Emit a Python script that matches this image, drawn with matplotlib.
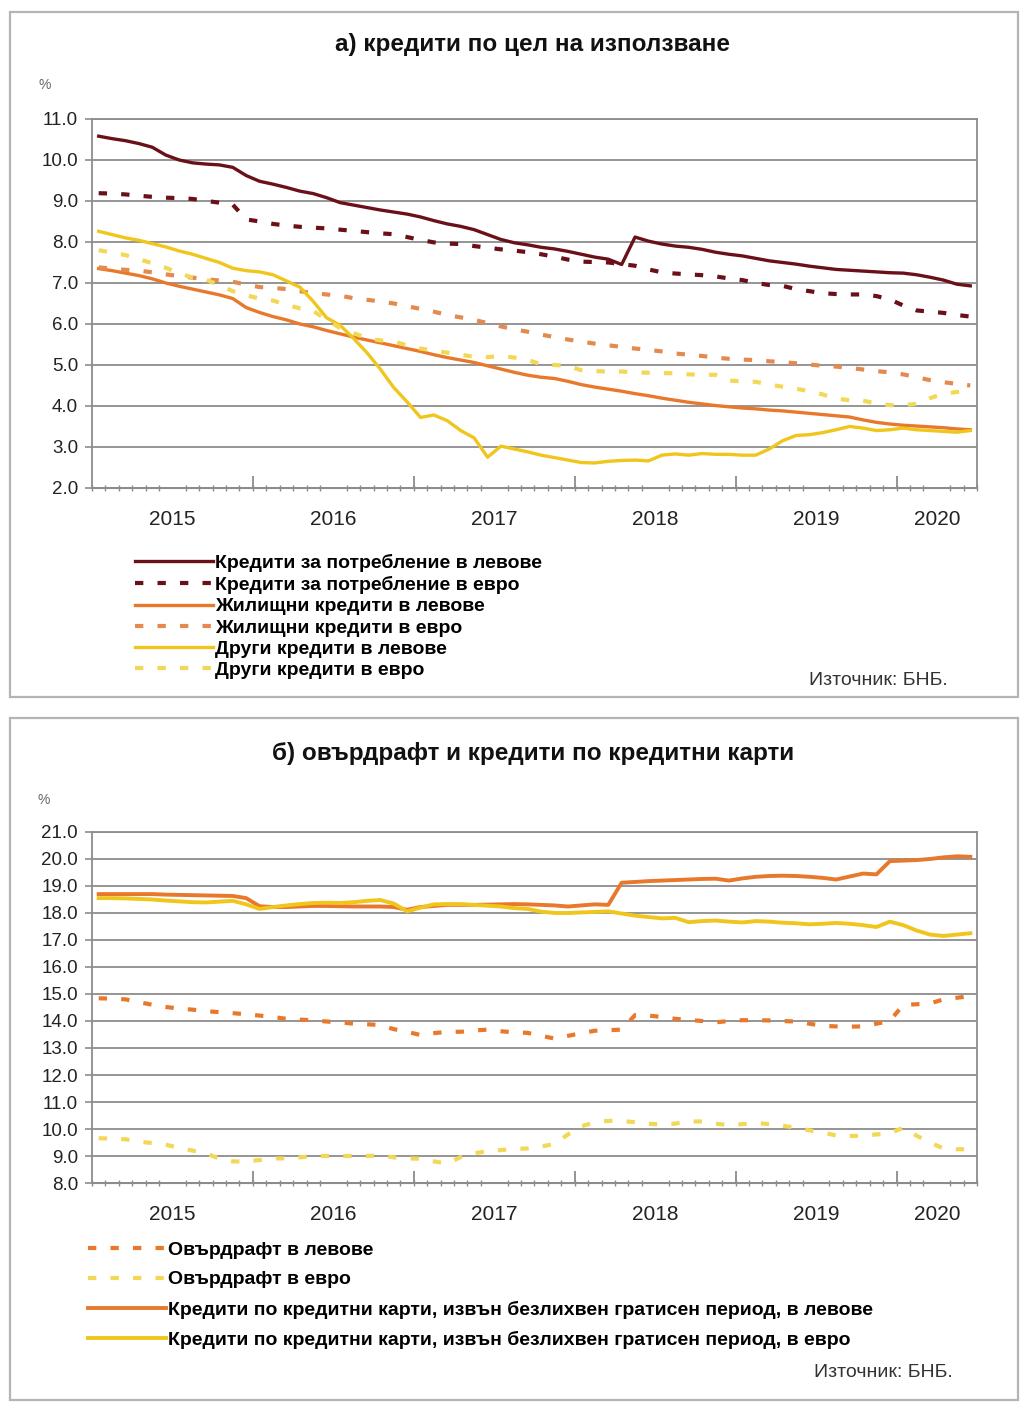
import numpy as np
import pandas as pd
import matplotlib
matplotlib.use('Agg')
import matplotlib.pyplot as plt
from matplotlib.patches import Rectangle

plt.rcParams['font.family'] = ['Liberation Sans', 'DejaVu Sans']

# месеци: 01.2015 - 06.2020
months = pd.date_range('2015-01-01', '2020-06-01', freq='MS')
years = ['2015', '2016', '2017', '2018', '2019', '2020']

# ================= а) кредити по цел на използване =================
cons_bgn = [10.58, 10.52, 10.47, 10.40, 10.31, 10.12, 10.00, 9.93, 9.90, 9.88, 9.82, 9.62,
            9.48, 9.41, 9.33, 9.24, 9.18, 9.08, 8.96, 8.90, 8.84, 8.78, 8.73, 8.68,
            8.61, 8.52, 8.44, 8.38, 8.30, 8.18, 8.06, 7.98, 7.93, 7.87, 7.83, 7.77,
            7.70, 7.63, 7.58, 7.45, 8.12, 8.02, 7.95, 7.90, 7.87, 7.82, 7.75, 7.70,
            7.66, 7.60, 7.54, 7.50, 7.46, 7.41, 7.37, 7.33, 7.31, 7.29, 7.27, 7.25,
            7.24, 7.20, 7.14, 7.07, 6.97, 6.93]
cons_eur = [9.19, 9.18, 9.16, 9.13, 9.10, 9.08, 9.07, 9.05, 9.00, 8.96, 8.91, 8.55,
            8.50, 8.44, 8.40, 8.37, 8.35, 8.33, 8.30, 8.27, 8.24, 8.21, 8.19, 8.12,
            8.05, 7.99, 7.96, 7.95, 7.90, 7.86, 7.82, 7.79, 7.75, 7.70, 7.64, 7.57,
            7.52, 7.51, 7.50, 7.46, 7.42, 7.33, 7.26, 7.23, 7.21, 7.19, 7.16, 7.11,
            7.07, 7.00, 6.95, 6.93, 6.85, 6.80, 6.75, 6.73, 6.72, 6.72, 6.68, 6.60,
            6.45, 6.33, 6.30, 6.27, 6.22, 6.18]
house_bgn = [7.35, 7.30, 7.24, 7.18, 7.10, 7.00, 6.92, 6.85, 6.78, 6.71, 6.62, 6.40,
             6.28, 6.18, 6.10, 6.00, 5.93, 5.84, 5.76, 5.68, 5.61, 5.54, 5.47, 5.40,
             5.33, 5.25, 5.18, 5.12, 5.06, 4.98, 4.90, 4.82, 4.75, 4.70, 4.67, 4.60,
             4.52, 4.46, 4.41, 4.36, 4.30, 4.25, 4.19, 4.14, 4.09, 4.05, 4.01, 3.98,
             3.95, 3.93, 3.90, 3.88, 3.85, 3.82, 3.79, 3.76, 3.73, 3.66, 3.60, 3.56,
             3.53, 3.51, 3.49, 3.47, 3.44, 3.42]
house_eur = [7.38, 7.35, 7.32, 7.30, 7.26, 7.21, 7.17, 7.13, 7.09, 7.06, 7.03, 6.96,
             6.90, 6.88, 6.85, 6.80, 6.75, 6.72, 6.69, 6.63, 6.59, 6.55, 6.50, 6.43,
             6.37, 6.30, 6.22, 6.16, 6.10, 6.02, 5.94, 5.87, 5.81, 5.74, 5.68, 5.62,
             5.57, 5.52, 5.48, 5.44, 5.40, 5.37, 5.33, 5.28, 5.25, 5.22, 5.18, 5.15,
             5.13, 5.12, 5.09, 5.07, 5.04, 5.01, 4.98, 4.96, 4.93, 4.89, 4.85, 4.82,
             4.77, 4.70, 4.63, 4.58, 4.54, 4.50]
other_bgn = [8.26, 8.18, 8.10, 8.04, 7.96, 7.88, 7.78, 7.70, 7.60, 7.50, 7.36, 7.30,
             7.27, 7.20, 7.05, 6.90, 6.55, 6.15, 5.97, 5.65, 5.30, 4.90, 4.45, 4.10,
             3.72, 3.78, 3.64, 3.40, 3.22, 2.75, 3.02, 2.95, 2.88, 2.80, 2.74, 2.68,
             2.62, 2.61, 2.65, 2.67, 2.68, 2.66, 2.80, 2.83, 2.80, 2.84, 2.82, 2.82,
             2.80, 2.80, 2.95, 3.15, 3.28, 3.30, 3.35, 3.42, 3.50, 3.46, 3.40, 3.42,
             3.46, 3.42, 3.40, 3.38, 3.36, 3.40]
other_eur = [7.80, 7.74, 7.68, 7.58, 7.48, 7.37, 7.24, 7.13, 7.08, 6.95, 6.80, 6.70,
             6.62, 6.57, 6.47, 6.38, 6.32, 6.10, 5.90, 5.78, 5.65, 5.60, 5.57, 5.48,
             5.40, 5.35, 5.30, 5.25, 5.20, 5.19, 5.22, 5.18, 5.12, 5.02, 5.00, 4.98,
             4.87, 4.85, 4.84, 4.84, 4.82, 4.81, 4.80, 4.80, 4.77, 4.76, 4.76, 4.62,
             4.60, 4.59, 4.52, 4.47, 4.42, 4.36, 4.28, 4.18, 4.14, 4.13, 4.06, 4.02,
             4.02, 4.05, 4.19, 4.30, 4.34, 4.40]

# ================= б) овърдрафт и кредитни карти =================
od_bgn = [14.84, 14.83, 14.80, 14.70, 14.60, 14.52, 14.46, 14.42, 14.36, 14.33, 14.29, 14.25,
          14.20, 14.15, 14.08, 14.05, 14.03, 13.98, 13.95, 13.90, 13.88, 13.85, 13.70, 13.60,
          13.48, 13.55, 13.60, 13.60, 13.65, 13.68, 13.62, 13.58, 13.56, 13.45, 13.35, 13.45,
          13.55, 13.64, 13.66, 13.68, 14.22, 14.20, 14.15, 14.08, 14.04, 14.00, 13.95, 14.00,
          14.03, 14.03, 14.02, 14.00, 13.98, 13.90, 13.82, 13.80, 13.79, 13.80, 13.90, 14.00,
          14.60, 14.62, 14.65, 14.80, 14.86, 14.92]
od_eur = [9.66, 9.64, 9.62, 9.53, 9.48, 9.42, 9.30, 9.20, 9.10, 8.90, 8.80, 8.80,
          8.85, 8.91, 8.91, 8.95, 9.00, 9.00, 9.00, 9.00, 9.00, 9.02, 8.95, 8.91,
          8.90, 8.80, 8.72, 8.96, 9.10, 9.18, 9.22, 9.26, 9.28, 9.35, 9.45, 9.80,
          10.10, 10.25, 10.30, 10.30, 10.25, 10.20, 10.16, 10.20, 10.28, 10.28, 10.20, 10.14,
          10.18, 10.22, 10.18, 10.12, 10.05, 9.95, 9.87, 9.76, 9.74, 9.75, 9.80, 9.84,
          10.05, 9.75, 9.50, 9.28, 9.25, 9.25]
card_bgn = [18.70, 18.70, 18.70, 18.70, 18.70, 18.68, 18.67, 18.66, 18.65, 18.64, 18.63, 18.55,
            18.25, 18.22, 18.22, 18.24, 18.26, 18.26, 18.25, 18.24, 18.24, 18.24, 18.22, 18.12,
            18.22, 18.26, 18.30, 18.30, 18.30, 18.31, 18.32, 18.33, 18.32, 18.30, 18.28, 18.24,
            18.28, 18.32, 18.30, 19.12, 19.15, 19.18, 19.20, 19.22, 19.24, 19.26, 19.27, 19.20,
            19.28, 19.34, 19.37, 19.38, 19.37, 19.34, 19.30, 19.24, 19.35, 19.46, 19.43, 19.92,
            19.94, 19.96, 20.00, 20.06, 20.10, 20.08]
card_eur = [18.55, 18.55, 18.54, 18.52, 18.50, 18.46, 18.43, 18.40, 18.39, 18.42, 18.45, 18.32,
            18.15, 18.22, 18.28, 18.33, 18.37, 18.38, 18.37, 18.40, 18.45, 18.48, 18.35, 18.06,
            18.20, 18.32, 18.33, 18.33, 18.30, 18.27, 18.24, 18.18, 18.15, 18.05, 18.00, 18.00,
            18.02, 18.04, 18.06, 17.98, 17.90, 17.85, 17.80, 17.82, 17.66, 17.70, 17.72, 17.68,
            17.65, 17.70, 17.68, 17.64, 17.62, 17.58, 17.60, 17.63, 17.60, 17.55, 17.48, 17.68,
            17.55, 17.35, 17.20, 17.15, 17.20, 17.25]

DARK = '#6b1019'
ORANGE = '#e8792c'
ORANGE_D = '#e48a4e'
YELLOW = '#f0c61c'
YELLOW_D = '#f2d855'
GRID = '#8c8c8c'
DOT = (0, (2, 3.4))

x = np.arange(len(months))
centers = [x[months.year == int(y)].mean() for y in years]
bounds = [i - 0.5 for i in x if months[i].month == 1 and i > 0]


def style_axis(ax, ymin, ymax):
    ax.set_xlim(-0.5, len(x) - 0.5)
    ax.set_ylim(ymin, ymax)
    ax.set_yticks(np.arange(ymin, ymax + 0.01, 1.0))
    ax.yaxis.set_major_formatter('{x:.1f}')
    ax.grid(axis='y', color=GRID, lw=1.3)
    ax.set_axisbelow(True)
    for s in ax.spines.values():
        s.set_color(GRID)
        s.set_linewidth(1.3)
    ax.tick_params(axis='y', colors=GRID, labelcolor='#222222', labelsize=13.5,
                   length=5, width=1.2, pad=5)
    ax.set_xticks(centers, years)
    ax.set_xticks(np.arange(-0.5, len(x)), minor=True)
    ax.tick_params(axis='x', which='major', length=0, labelsize=15,
                   labelcolor='#222222', pad=16)
    ax.tick_params(axis='x', which='minor', direction='inout', length=5,
                   width=1.0, color=GRID)
    sec = ax.secondary_xaxis('bottom')
    sec.set_xticks(bounds, [''] * len(bounds))
    sec.tick_params(direction='in', length=9, width=1.3, color=GRID)
    sec.spines['bottom'].set_color(GRID)


fig = plt.figure(figsize=(10.21, 14.03), dpi=100)

# рамки на панелите
for (y0, h) in [(0.5032, 0.4882), (0.0021, 0.4861)]:
    fig.patches.append(Rectangle((0.0098, y0), 0.9873, h, transform=fig.transFigure,
                                 fill=False, edgecolor='#b4b4b4', lw=1.6))

# ---- панел а ----
ax1 = fig.add_axes([0.0901, 0.6522, 0.8668, 0.2630])
ax1.plot(x, cons_bgn, color=DARK, lw=2.4, label='Кредити за потребление в левове')
ax1.plot(x, cons_eur, color=DARK, lw=3.0, ls=DOT, label='Кредити за потребление в евро')
ax1.plot(x, house_bgn, color=ORANGE, lw=2.4, label='Жилищни кредити в левове')
ax1.plot(x, house_eur, color=ORANGE_D, lw=3.0, ls=DOT, label='Жилищни кредити в евро')
ax1.plot(x, other_bgn, color=YELLOW, lw=2.4, label='Други кредити в левове')
ax1.plot(x, other_eur, color=YELLOW_D, lw=3.0, ls=DOT, label='Други кредити в евро')
style_axis(ax1, 2.0, 11.0)

fig.text(0.522, 0.968, 'а) кредити по цел на използване', ha='center', va='center',
         fontsize=17.5, fontweight='bold', color='#111111')
fig.text(0.044, 0.9394, '%', ha='center', va='center', fontsize=10, color='#666666')
fig.legend(*ax1.get_legend_handles_labels(), loc='upper left',
           bbox_to_anchor=(0.1322, 0.6050), frameon=False, borderpad=0,
           borderaxespad=0, handlelength=4.0, handletextpad=0.1, labelspacing=0.19,
           prop={'size': 14, 'weight': 'bold'})
fig.text(0.9285, 0.5153, 'Източник: БНБ.', ha='right', va='center', fontsize=14,
         color='#333333')

# ---- панел б ----
ax2 = fig.add_axes([0.0901, 0.1568, 0.8668, 0.2502])
ax2.plot(x, od_bgn, color=ORANGE, lw=3.0, ls=DOT, label='Овърдрафт в левове')
ax2.plot(x, od_eur, color=YELLOW_D, lw=3.0, ls=DOT, label='Овърдрафт в евро')
ax2.plot(x, card_bgn, color=ORANGE, lw=2.8,
         label='Кредити по кредитни карти, извън безлихвен гратисен период, в левове')
ax2.plot(x, card_eur, color=YELLOW, lw=2.8,
         label='Кредити по кредитни карти, извън безлихвен гратисен период, в евро')
style_axis(ax2, 8.0, 21.0)

fig.text(0.522, 0.4626, 'б) овърдрафт и кредити по кредитни карти', ha='center',
         va='center', fontsize=17.5, fontweight='bold', color='#111111')
fig.text(0.043, 0.4298, '%', ha='center', va='center', fontsize=10, color='#666666')
fig.legend(*ax2.get_legend_handles_labels(), loc='upper left',
           bbox_to_anchor=(0.0862, 0.1155), frameon=False, borderpad=0,
           borderaxespad=0, handlelength=4.0, handletextpad=0.1, labelspacing=0.63,
           prop={'size': 14, 'weight': 'bold'})
fig.text(0.9334, 0.0214, 'Източник: БНБ.', ha='right', va='center', fontsize=14,
         color='#333333')

fig.savefig('out.png', dpi=100)
